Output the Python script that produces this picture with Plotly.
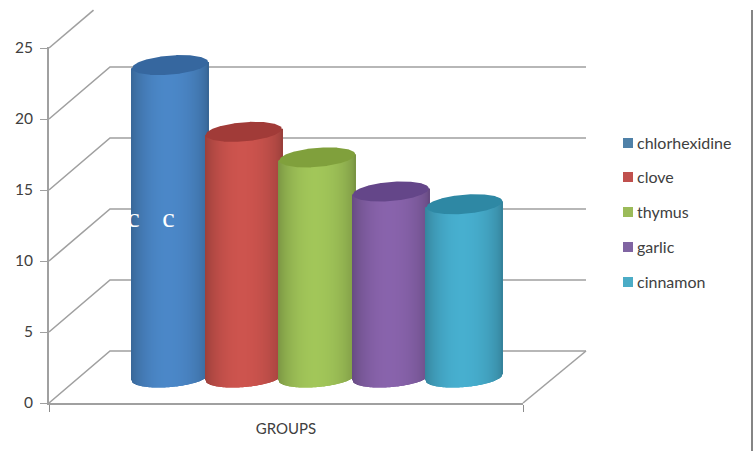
import math
import plotly.graph_objects as go

# Series shown in the chart
series_names = ["chlorhexidine", "clove", "thymus", "garlic", "cinnamon"]
series_values = [22.0, 17.3, 15.5, 13.1, 12.2]
body_colors = ["#4a86c6", "#cb534d", "#a0c458", "#8762aa", "#46adcd"]
top_colors = ["#36679f", "#a13b38", "#80a03c", "#644689", "#2e88a4"]
swatch_colors = ["#4f81a8", "#c0504d", "#9bbb59", "#8064a2", "#4bacc6"]
y_ticks = [0, 5, 10, 15, 20, 25]
category_label = "GROUPS"

# Projection of the pseudo-3D box: one unit on the axis = 14.2 px, x units are px
WIDTH, HEIGHT = 755, 451
PX_PER_UNIT = 14.2
LEFT, RIGHT, TOP, BOTTOM = 49, 523, 47, 403
DEPTH_X = 61
DEPTH_Y = 52 / PX_PER_UNIT
BACK_RIGHT = 537
TOP_DIAGONAL_FRACTION = 0.73

# Cylinder geometry
FIRST_CENTER = 121
CENTER_STEP = 73.6
RADIUS = 38
ELLIPSE_B = 9.6 / PX_PER_UNIT
ELLIPSE_SHEAR = 0.08 / PX_PER_UNIT
BASE_LEVEL = (BOTTOM - 377.5) / PX_PER_UNIT

GRID = "#a0a0a0"
TEXT = "#404040"
FONT = "Lato, sans-serif"


def px_x(px):
    return px - LEFT


def px_y(px):
    return (BOTTOM - px) / PX_PER_UNIT


def shade(hex_color, factor):
    rgb = [int(hex_color[i:i + 2], 16) for i in (1, 3, 5)]
    return "rgb({},{},{})".format(*[min(255, round(c * factor)) for c in rgb])


def strip_factor(t):
    # darker towards the silhouette edges, the left edge more so than the right
    edge = 0.66 if t < 0 else 0.76
    return edge + (1.01 - edge) * math.cos(math.pi / 2 * min(1, abs(t + 0.05) / 1.05)) ** 0.6


def arc(level, dx, sign):
    root = math.sqrt(max(0, 1 - (dx / RADIUS) ** 2))
    return level + ELLIPSE_SHEAR * dx + sign * ELLIPSE_B * root


fig = go.Figure()

# Real axes live on the first subplot; this invisible trace keeps it on the page
fig.add_trace(go.Scatter(x=[0], y=[0], mode="markers", marker=dict(opacity=0),
                         showlegend=False, hoverinfo="skip"))

# Walls and floor of the box, on a full-page subplot beneath the cylinders
walls = dict(xaxis="x2", yaxis="y2", showlegend=False, hoverinfo="skip")
for tick in y_ticks:
    if tick == y_ticks[-1]:
        xs = [0, DEPTH_X * TOP_DIAGONAL_FRACTION]
        ys = [tick, tick + DEPTH_Y * TOP_DIAGONAL_FRACTION]
    else:
        xs = [0, DEPTH_X, BACK_RIGHT]
        ys = [tick, tick + DEPTH_Y, tick + DEPTH_Y]
    fig.add_trace(go.Scatter(x=xs, y=ys, mode="lines",
                             line=dict(color=GRID, width=1.6), **walls))
fig.add_trace(go.Scatter(x=[RIGHT - LEFT, BACK_RIGHT], y=[0, DEPTH_Y], mode="lines",
                         line=dict(color=GRID, width=1.6), **walls))

# Everything else sits on a second full-page subplot drawn above the walls
marks = dict(xaxis="x3", yaxis="y3", showlegend=False, hoverinfo="skip")

# Cylinders, left to right so that each one overlaps its left neighbour
for i, (name, value) in enumerate(zip(series_names, series_values)):
    center = FIRST_CENTER + CENTER_STEP * i
    level = BASE_LEVEL + value
    offsets = list(range(-RADIUS, RADIUS + 1))
    lower = [arc(BASE_LEVEL, d, -1) for d in offsets]
    upper = [level + ELLIPSE_SHEAR * d for d in offsets]
    fig.add_trace(go.Bar(
        x=[center + d for d in offsets],
        y=[u - b for u, b in zip(upper, lower)],
        base=lower,
        width=1.1,
        marker=dict(color=[shade(body_colors[i], strip_factor(d / RADIUS)) for d in offsets],
                    line=dict(width=0)),
        name=name, **marks,
    ))
    rim = [d * 0.5 for d in range(-2 * RADIUS, 2 * RADIUS + 1)]
    fig.add_trace(go.Scatter(
        x=[center + d for d in rim] + [center + d for d in reversed(rim)],
        y=[arc(level, d, 1) for d in rim] + [arc(level, d, -1) for d in reversed(rim)],
        mode="lines", fill="toself", fillcolor=top_colors[i],
        line=dict(width=0, color=top_colors[i]), **marks,
    ))

# Legend: square swatches with the series names beside them
legend_rows = [143, 177, 212, 247, 282]
fig.add_trace(go.Scatter(
    x=[px_x(628)] * len(series_names), y=[px_y(r) for r in legend_rows], mode="markers",
    marker=dict(symbol="square", size=10, color=swatch_colors), **marks,
))
fig.add_trace(go.Scatter(
    x=[px_x(637)] * len(series_names), y=[px_y(r + 1.5) for r in legend_rows], mode="text",
    text=series_names, textposition="middle right",
    textfont=dict(family=FONT, size=16, color=TEXT), **marks,
))

# White letters lying across the first cylinder
fig.add_trace(go.Scatter(
    x=[px_x(133.5), px_x(168.5)], y=[px_y(219.5), px_y(219.5)],
    mode="text", text=["c", "c"],
    textfont=dict(family="Liberation Serif, serif", size=28, color="#ffffff"),
    **marks,
))

# Thin frame line along the right side
fig.add_trace(go.Scatter(
    x=[px_x(752), px_x(752)], y=[px_y(10), px_y(HEIGHT)], mode="lines",
    line=dict(color="#858585", width=2), **marks,
))

x_range = [0, RIGHT - LEFT]
y_range = [0, (BOTTOM - TOP) / PX_PER_UNIT]
page_x = dict(domain=[0, 1], range=[px_x(0), px_x(WIDTH)], visible=False)
page_y = dict(domain=[0, 1], range=[px_y(HEIGHT), px_y(0)], visible=False)
fig.update_layout(
    width=WIDTH, height=HEIGHT,
    margin=dict(l=0, r=0, t=0, b=0, pad=0, autoexpand=False),
    paper_bgcolor="#ffffff", plot_bgcolor="rgba(0,0,0,0)",
    barmode="overlay", showlegend=False,
    font=dict(family=FONT, color=TEXT),
    xaxis=dict(
        domain=[LEFT / WIDTH, RIGHT / WIDTH], anchor="y",
        range=x_range, showgrid=False, zeroline=False, showline=True,
        linecolor=GRID, linewidth=2, ticks="outside", ticklen=7, tickcolor="#8c8c8c",
        tickvals=x_range, ticktext=["", ""],
        title=dict(text=category_label, font=dict(size=15, color=TEXT), standoff=10),
    ),
    yaxis=dict(
        domain=[1 - BOTTOM / HEIGHT, 1 - TOP / HEIGHT], anchor="x",
        range=y_range, showgrid=False, zeroline=False, showline=True,
        linecolor=GRID, linewidth=2, ticks="outside", ticklen=7, tickcolor=GRID,
        tickvals=y_ticks, tickfont=dict(size=15.5, color=TEXT), ticklabelstandoff=4,
    ),
    xaxis2=dict(anchor="y2", **page_x),
    yaxis2=dict(anchor="x2", **page_y),
    xaxis3=dict(anchor="y3", **page_x),
    yaxis3=dict(anchor="x3", **page_y),
)

fig.write_html("out.html")
